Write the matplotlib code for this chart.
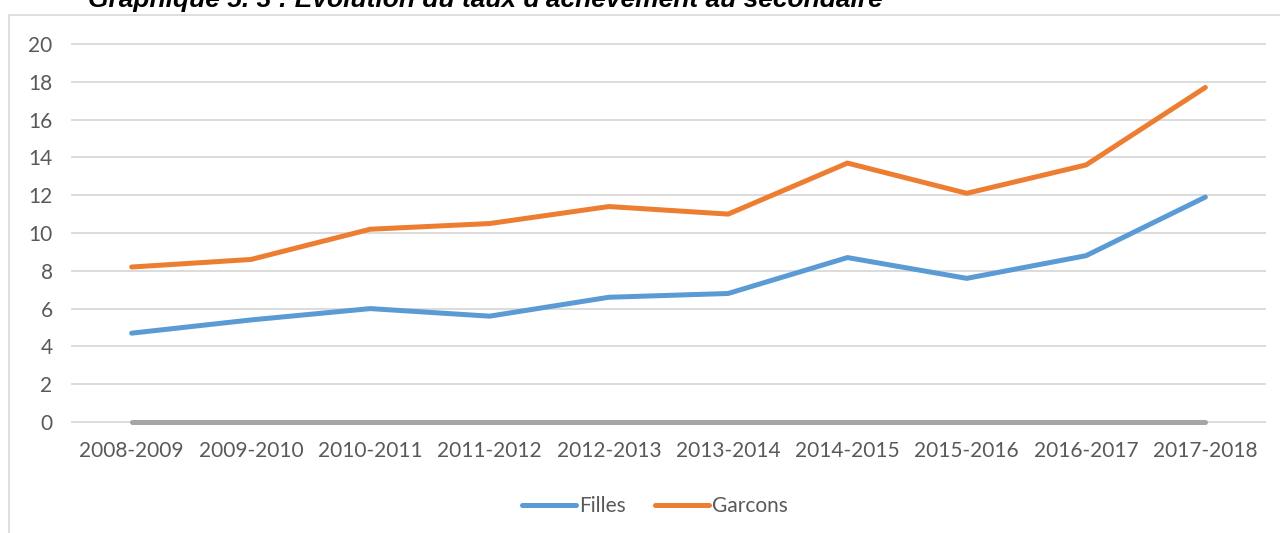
from matplotlib import pyplot as plt
from matplotlib.patches import Rectangle
import numpy as np

years = ['2008-2009', '2009-2010', '2010-2011', '2011-2012', '2012-2013',
         '2013-2014', '2014-2015', '2015-2016', '2016-2017', '2017-2018']
filles = [4.7, 5.4, 6.0, 5.6, 6.6, 6.8, 8.7, 7.6, 8.8, 11.9]
garcons = [8.2, 8.6, 10.2, 10.5, 11.4, 11.0, 13.7, 12.1, 13.6, 17.7]
total = [0, 0, 0, 0, 0, 0, 0, 0, 0, 0]

y_ticks = np.arange(0, 21, 2)
x_ind = np.arange(len(years))

plt.rcParams['font.family'] = ['Lato', 'DejaVu Sans']

fig = plt.figure(figsize=(12.8, 5.33), dpi=100)

# chart area border (cut off on right and bottom like the source image)
fig.patches.append(Rectangle((9 / 1280, -0.1), 1.2, 1 - 15 / 533 + 0.1,
                             transform=fig.transFigure, fill=False,
                             edgecolor='#d9d9d9', linewidth=1.2))

# title partly cut off at the top, as in the source
fig.text(88 / 1280, 1 - 7 / 533, "Graphique 5. 3 : Evolution du taux d'achèvement au secondaire",
         ha='left', va='baseline', fontsize=19, fontweight='bold', fontstyle='italic',
         family=['Liberation Sans', 'DejaVu Sans'], color='black')

ax = fig.add_axes([72 / 1280, 1 - 422 / 533, (1265 - 72) / 1280, (422 - 44) / 533])

for y in y_ticks:
    ax.axhline(y, color='#d9d9d9', linewidth=1.3, zorder=0, clip_on=False)

ax.plot(x_ind, total, color='#a5a5a5', linewidth=3.6, solid_capstyle='round',
        zorder=2, clip_on=False)
ax.plot(x_ind, filles, color='#5b9bd5', linewidth=3.6, solid_capstyle='round',
        solid_joinstyle='round', label='Filles', zorder=3)
ax.plot(x_ind, garcons, color='#ed7d31', linewidth=3.6, solid_capstyle='round',
        solid_joinstyle='round', label='Garcons', zorder=3)

ax.set_xlim(-0.5, len(years) - 0.5)
ax.set_ylim(0, 20)
ax.set_yticks(y_ticks)
ax.set_xticks(x_ind)
ax.set_xticklabels(years)
ax.tick_params(axis='both', length=0, labelsize=15, colors='#595959')
ax.tick_params(axis='y', pad=14)
ax.tick_params(axis='x', pad=14)
for s in ax.spines.values():
    s.set_visible(False)

leg = fig.legend(loc='center', bbox_to_anchor=(655 / 1280, 1 - 506 / 533), ncol=2,
                 frameon=False, fontsize=15, handlelength=2.6, handletextpad=0.15,
                 columnspacing=1.4)
for t in leg.get_texts():
    t.set_color('#595959')

plt.savefig('out.png', dpi=100)
